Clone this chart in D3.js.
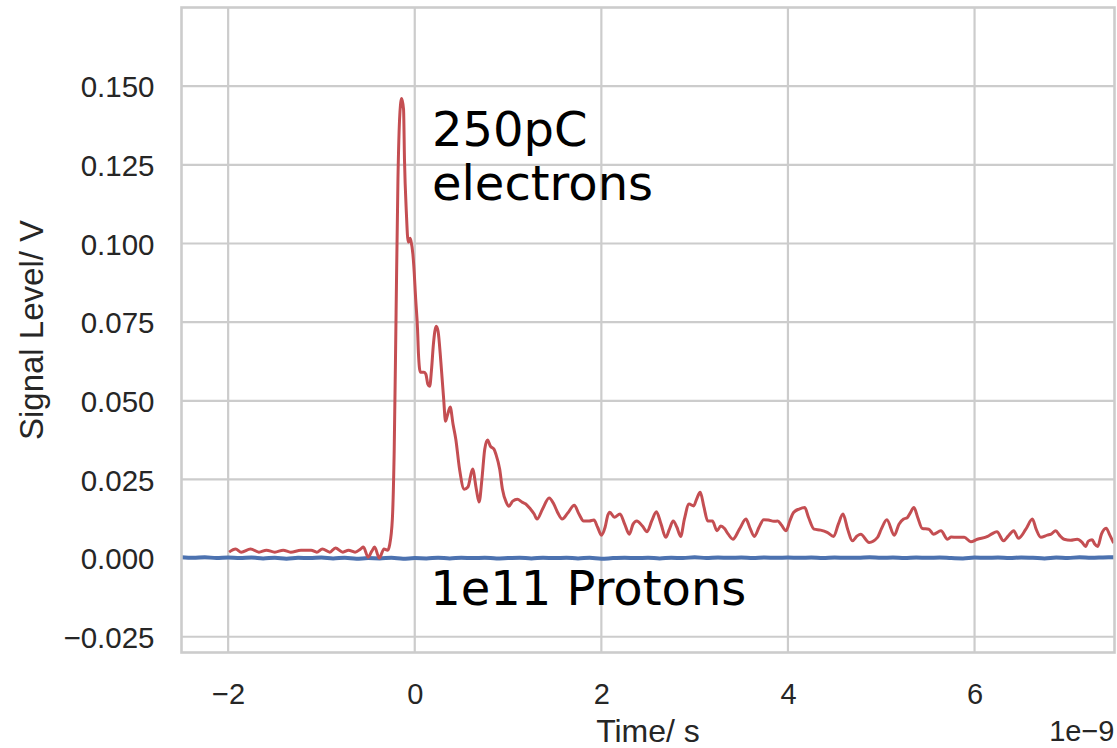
<!DOCTYPE html>
<html>
<head>
<meta charset="utf-8">
<script src="https://cdn.jsdelivr.net/npm/d3@7"></script>
<style>
html,body{margin:0;padding:0;background:#fff;}
svg{display:block;}
</style>
</head>
<body>
<svg id="chart" width="1117" height="748"></svg>
<script>
// ---- Data (time in units of 1e-9 s, signal in V) ----
const electronTime = [-1.99,-1.92,-1.86,-1.76,-1.67,-1.59,-1.50,-1.41,-1.33,-1.22,-1.11,-1.05,-0.99,-0.91,-0.85,-0.77,-0.71,-0.64,-0.58,-0.55,-0.50,-0.46,-0.43,-0.38,-0.33,-0.29,-0.27,-0.24,-0.22,-0.20,-0.18,-0.16,-0.14,-0.12,-0.11,-0.09,-0.07,-0.05,-0.04,-0.02,-0.01,0.01,0.03,0.04,0.06,0.10,0.12,0.14,0.16,0.18,0.20,0.23,0.25,0.28,0.31,0.33,0.35,0.38,0.41,0.44,0.48,0.53,0.57,0.62,0.66,0.69,0.72,0.75,0.78,0.81,0.85,0.87,0.91,0.94,0.98,1.01,1.05,1.10,1.15,1.19,1.24,1.28,1.31,1.37,1.44,1.49,1.53,1.58,1.64,1.71,1.76,1.81,1.87,1.92,1.96,2.00,2.04,2.07,2.09,2.14,2.20,2.25,2.30,2.34,2.38,2.44,2.49,2.54,2.59,2.64,2.69,2.73,2.77,2.81,2.85,2.89,2.94,2.99,3.02,3.06,3.10,3.14,3.19,3.24,3.28,3.32,3.36,3.41,3.48,3.55,3.59,3.64,3.69,3.74,3.79,3.85,3.89,3.93,3.98,4.02,4.06,4.12,4.18,4.22,4.28,4.35,4.42,4.49,4.54,4.59,4.64,4.69,4.74,4.78,4.87,4.96,5.00,5.06,5.14,5.19,5.24,5.28,5.31,5.35,5.39,5.44,5.51,5.56,5.64,5.71,5.75,5.81,5.89,5.96,6.03,6.14,6.18,6.24,6.31,6.36,6.42,6.47,6.55,6.62,6.66,6.71,6.78,6.82,6.87,6.91,6.96,7.03,7.10,7.15,7.19,7.22,7.26,7.29,7.32,7.36,7.41,7.45,7.49];
const electronSignal = [0.0019,0.0029,0.0019,0.0029,0.0019,0.0025,0.0019,0.0025,0.0019,0.0025,0.0025,0.0019,0.0029,0.0019,0.0032,0.0019,0.0025,0.0019,0.0029,0.0035,0.0003,0.0022,0.0035,0.0000,0.0029,0.0025,0.0041,0.0124,0.0346,0.0781,0.1204,0.1410,0.1461,0.1426,0.1267,0.1099,0.1004,0.1017,0.1007,0.0966,0.0928,0.0823,0.0727,0.0648,0.0591,0.0591,0.0584,0.0553,0.0546,0.0600,0.0680,0.0737,0.0721,0.0623,0.0505,0.0435,0.0454,0.0480,0.0426,0.0378,0.0283,0.0219,0.0226,0.0283,0.0219,0.0178,0.0251,0.0346,0.0375,0.0356,0.0346,0.0330,0.0283,0.0219,0.0178,0.0165,0.0181,0.0187,0.0178,0.0172,0.0156,0.0140,0.0124,0.0156,0.0191,0.0172,0.0146,0.0124,0.0143,0.0168,0.0140,0.0118,0.0118,0.0121,0.0098,0.0073,0.0098,0.0137,0.0146,0.0130,0.0140,0.0108,0.0076,0.0108,0.0118,0.0102,0.0084,0.0118,0.0147,0.0108,0.0066,0.0092,0.0118,0.0098,0.0069,0.0124,0.0172,0.0166,0.0187,0.0209,0.0162,0.0118,0.0118,0.0087,0.0102,0.0094,0.0076,0.0060,0.0092,0.0124,0.0098,0.0069,0.0098,0.0122,0.0121,0.0117,0.0118,0.0105,0.0087,0.0118,0.0145,0.0156,0.0161,0.0130,0.0092,0.0089,0.0082,0.0069,0.0108,0.0140,0.0092,0.0055,0.0070,0.0076,0.0050,0.0066,0.0092,0.0122,0.0073,0.0108,0.0124,0.0129,0.0143,0.0161,0.0130,0.0094,0.0092,0.0076,0.0087,0.0060,0.0067,0.0066,0.0066,0.0052,0.0060,0.0069,0.0076,0.0084,0.0055,0.0070,0.0087,0.0063,0.0092,0.0124,0.0092,0.0066,0.0073,0.0076,0.0087,0.0073,0.0060,0.0057,0.0060,0.0051,0.0037,0.0054,0.0058,0.0044,0.0037,0.0076,0.0095,0.0073,0.0048];

const protonTime = [-2.5,-2.375,-2.25,-2.125,-2.0,-1.875,-1.75,-1.625,-1.5,-1.375,-1.25,-1.125,-1.0,-0.875,-0.75,-0.625,-0.5,-0.375,-0.25,-0.125,0.0,0.125,0.25,0.375,0.5,0.625,0.75,0.875,1.0,1.125,1.25,1.375,1.5,1.625,1.75,1.875,2.0,2.125,2.25,2.375,2.5,2.625,2.75,2.875,3.0,3.125,3.25,3.375,3.5,3.625,3.75,3.875,4.0,4.125,4.25,4.375,4.5,4.625,4.75,4.875,5.0,5.125,5.25,5.375,5.5,5.625,5.75,5.875,6.0,6.125,6.25,6.375,6.5,6.625,6.75,6.875,7.0,7.125,7.25,7.375,7.5];
const protonSignal = [0.0003,0.0001,0.0003,0.0000,0.0002,0.0000,0.0002,-0.0001,0.0001,-0.0002,0.0001,0.0000,0.0002,-0.0001,0.0001,-0.0002,0.0000,-0.0001,0.0001,-0.0002,0.0000,-0.0001,0.0001,-0.0001,0.0001,0.0000,0.0001,-0.0001,0.0000,0.0001,-0.0001,0.0001,0.0000,0.0001,-0.0001,0.0001,-0.0002,0.0000,0.0001,0.0000,0.0001,-0.0001,0.0001,0.0000,0.0003,0.0000,0.0002,0.0001,0.0002,0.0000,0.0002,0.0001,0.0002,0.0001,0.0002,0.0000,0.0002,0.0001,0.0001,0.0003,0.0001,0.0002,0.0000,0.0002,0.0001,0.0002,0.0000,-0.0001,0.0002,0.0001,0.0002,0.0000,0.0002,0.0001,-0.0001,0.0002,0.0000,0.0003,0.0001,0.0002,0.0003];

const xTicks = [-2, 0, 2, 4, 6];
const yTicks = [-0.025, 0.000, 0.025, 0.050, 0.075, 0.100, 0.125, 0.150];
const xLabel = "Time/ s";
const yLabel = "Signal Level/ V";
const xOffsetText = "1e\u22129";
const annotations = [
  {text: "250pC", t: 0.185, v: 0.1310},
  {text: "electrons", t: 0.185, v: 0.1138},
  {text: "1e11 Protons", t: 0.165, v: -0.0149}
];

// ---- Layout ----
const svg = d3.select("#chart");
const pL = 181.5, pR = 1114.5, pT = 7.5, pB = 652.5;

const x = d3.scaleLinear().domain([-2.5, 7.5]).range([pL, pR]);
const y = d3.scaleLinear().domain([-0.03, 0.175]).range([pB, pT]);

const gridColor = "#cccccc";
const textColor = "#262626";
const tickFont = "'Liberation Sans', Arial, Helvetica, sans-serif";

// gridlines
const grid = svg.append("g");
grid.selectAll("line.vx").data(xTicks).enter().append("line")
  .attr("x1", d => x(d)).attr("x2", d => x(d))
  .attr("y1", pT).attr("y2", pB)
  .attr("stroke", gridColor).attr("stroke-width", 2.2);
grid.selectAll("line.hy").data(yTicks).enter().append("line")
  .attr("x1", pL).attr("x2", pR)
  .attr("y1", d => y(d)).attr("y2", d => y(d))
  .attr("stroke", gridColor).attr("stroke-width", 2.2);

// lines
const clipId = "plotclip";
svg.append("clipPath").attr("id", clipId).append("rect")
  .attr("x", pL).attr("y", pT).attr("width", pR - pL).attr("height", pB - pT);

const protonData = protonTime.map((t, i) => [t, protonSignal[i]]);
const electronData = electronTime.map((t, i) => [t, electronSignal[i]]);
const line = d3.line().x(d => x(d[0])).y(d => y(d[1])).curve(d3.curveMonotoneX);

const plot = svg.append("g").attr("clip-path", `url(#${clipId})`);
plot.append("path").datum(protonData)
  .attr("d", line).attr("fill", "none")
  .attr("stroke", "#4c72b0").attr("stroke-width", 4).attr("stroke-linejoin", "round");
plot.append("path").datum(electronData)
  .attr("d", line).attr("fill", "none")
  .attr("stroke", "#c44e52").attr("stroke-width", 3).attr("stroke-linejoin", "round");

// frame (spines)
svg.append("rect")
  .attr("x", pL).attr("y", pT).attr("width", pR - pL).attr("height", pB - pT)
  .attr("fill", "none").attr("stroke", gridColor).attr("stroke-width", 2.6);

// axes (tick labels only)
const xAxis = d3.axisBottom(x).tickValues(xTicks).tickSize(0).tickPadding(0)
  .tickFormat(d => d < 0 ? "\u2212" + Math.abs(d) : String(d));
const gx = svg.append("g").attr("transform", `translate(0,${pB})`).call(xAxis);
gx.select(".domain").remove();
gx.selectAll("text").attr("dy", null).attr("y", 51)
  .attr("font-family", tickFont).attr("font-size", 29).attr("fill", textColor);

const yAxis = d3.axisLeft(y).tickValues(yTicks).tickSize(0).tickPadding(0)
  .tickFormat(d => { const s = d3.format(".3f")(Math.abs(d)); return d < 0 ? "\u2212" + s : s; });
const gy = svg.append("g").attr("transform", `translate(${pL},0)`).call(yAxis);
gy.select(".domain").remove();
gy.selectAll("text").attr("x", -27).attr("dy", "0.36em")
  .attr("font-family", tickFont).attr("font-size", 29.5).attr("fill", textColor);

// axis labels
svg.append("text").attr("x", (pL + pR) / 2).attr("y", 742)
  .attr("text-anchor", "middle").attr("font-family", tickFont).attr("font-size", 32)
  .attr("fill", textColor).text(xLabel);
svg.append("text")
  .attr("transform", `translate(43,${(pT + pB) / 2}) rotate(-90)`)
  .attr("text-anchor", "middle").attr("font-family", tickFont).attr("font-size", 33)
  .attr("fill", textColor).text(yLabel);
svg.append("text").attr("x", pR).attr("y", 741)
  .attr("text-anchor", "end").attr("font-family", tickFont).attr("font-size", 29)
  .attr("fill", textColor).text(xOffsetText);

// annotations
svg.selectAll("text.annot").data(annotations).enter().append("text")
  .attr("class", "annot")
  .attr("x", d => x(d.t)).attr("y", d => y(d.v))
  .attr("font-family", "'DejaVu Sans', Verdana, sans-serif").attr("font-size", 48)
  .attr("fill", "#000").text(d => d.text);
</script>
</body>
</html>
